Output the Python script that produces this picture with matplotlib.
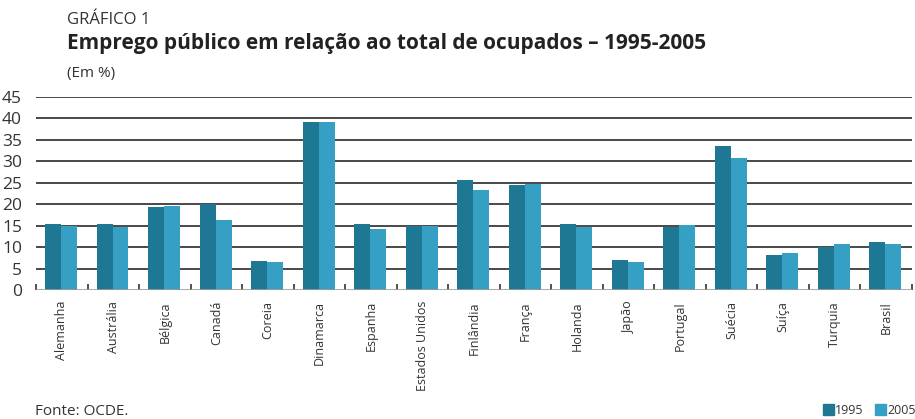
import numpy as np
import matplotlib
matplotlib.use('Agg')
import matplotlib.pyplot as plt
from matplotlib.patches import Rectangle

plt.rcParams['font.family'] = ['Open Sans', 'DejaVu Sans']

paises = ['Alemanha', 'Austrália', 'Bélgica', 'Canadá', 'Coreia', 'Dinamarca',
          'Espanha', 'Estados Unidos', 'Finlândia', 'França', 'Holanda', 'Japão',
          'Portugal', 'Suécia', 'Suíça', 'Turquia', 'Brasil']
v1995 = [15.3, 15.3, 19.3, 20.1, 6.8, 39.2, 15.4, 15.0, 25.6, 24.5, 15.4, 7.1,
         14.7, 33.5, 8.1, 10.1, 11.2]
v2005 = [15.0, 14.7, 19.55, 16.4, 6.6, 39.2, 14.3, 15.0, 23.3, 24.7, 14.7, 6.6,
         15.2, 30.7, 8.6, 10.7, 10.7]
yticks = [0, 5, 10, 15, 20, 25, 30, 35, 40, 45]

c1995 = '#1e7793'
c2005 = '#35a0c4'

fig = plt.figure(figsize=(9.15, 4.19), dpi=100)
ax = fig.add_axes([36 / 915, 1 - 290 / 419, 876 / 915, 193 / 419])

x = np.arange(len(paises))
w = 0.31
ax.bar(x - w / 2 - 0.015, v1995, w, color=c1995, zorder=3)
ax.bar(x + w / 2 - 0.015, v2005, w, color=c2005, zorder=3)

ax.set_xlim(-0.5, len(paises) - 0.5)
ax.set_ylim(0, 45)
for y in yticks[1:]:
    ax.axhline(y, color='#3a3a3a', lw=1.3, zorder=1)
ax.axhline(0, color='#9a9a9a', lw=1.2, zorder=4)

for s in ax.spines.values():
    s.set_visible(False)

ax.set_yticks(yticks)
ax.set_yticklabels([str(t) for t in yticks], fontsize=12.5, color='#333333')
ax.tick_params(axis='y', length=0, pad=10)

ax.set_xticks(x)
ax.set_xticklabels(paises, rotation=90, fontsize=9, color='#333333', va='top')
ax.tick_params(axis='x', which='major', length=0, pad=8)
ax.set_xticks(np.arange(len(paises) + 1) - 0.5, minor=True)
ax.tick_params(axis='x', which='minor', direction='in', length=4, width=1.2,
               color='#333333')

fig.text(67 / 915, 1 - 20 / 419, 'GRÁFICO 1', fontsize=12, color='#333333', va='center')
fig.text(67 / 915, 1 - 44 / 419, 'Emprego público em relação ao total de ocupados – 1995-2005',
         fontsize=15, fontweight='bold', color='#222222', va='center')
fig.text(67 / 915, 1 - 73 / 419, '(Em %)', fontsize=11, color='#333333', va='center')
fig.text(35 / 915, 1 - 411 / 419, 'Fonte: OCDE.', fontsize=11, color='#333333', va='center')

# legenda
fig.patches.append(Rectangle((823 / 915, 1 - 415 / 419), 11 / 915, 11 / 419,
                             transform=fig.transFigure, color=c1995))
fig.text(835 / 915, 1 - 410 / 419, '1995', fontsize=9, color='#333333', va='center')
fig.patches.append(Rectangle((875 / 915, 1 - 415 / 419), 11 / 915, 11 / 419,
                             transform=fig.transFigure, color=c2005))
fig.text(887 / 915, 1 - 410 / 419, '2005', fontsize=9, color='#333333', va='center')

fig.savefig('out.png', dpi=100)
